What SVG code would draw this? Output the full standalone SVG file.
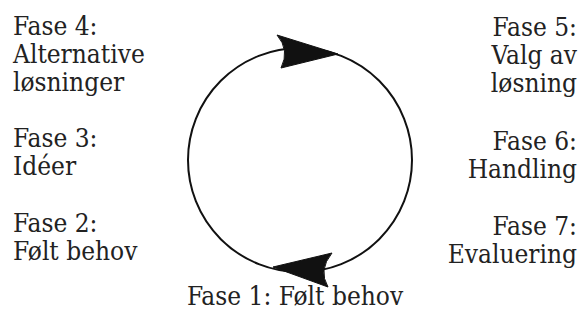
<svg xmlns="http://www.w3.org/2000/svg" width="581" height="320" viewBox="0 0 581 320">
<style>
text{font-family:"DejaVu Serif Condensed","DejaVu Serif",serif;font-stretch:condensed;font-size:26px;fill:#222}
.r{text-anchor:end}
.c{text-anchor:middle}
.ring{fill:none;stroke:#111;stroke-width:2}
.head{fill:#111;stroke:#111;stroke-width:1}
</style>
<rect width="581" height="320" fill="#fff"/>
<g id="connectors">
<circle class="ring" cx="300" cy="160" r="112"/>
<path class="head" d="M338,54 L277,35 Q290,50 281,68 Z"/>
<path class="head" d="M273,267 L332,253 Q318,270 328,287 Z"/>
</g>
<g id="fase4"><text x="13" y="35">Fase 4:</text><text x="13" y="63">Alternative</text><text x="13" y="91">løsninger</text></g>
<g id="fase3"><text x="13" y="147">Fase 3:</text><text x="13" y="175">Idéer</text></g>
<g id="fase2"><text x="13" y="232">Fase 2:</text><text x="13" y="260">Følt behov</text></g>
<g id="fase5"><text class="r" x="577" y="36">Fase 5:</text><text class="r" x="577" y="64">Valg av</text><text class="r" x="577" y="92">løsning</text></g>
<g id="fase6"><text class="r" x="577" y="150">Fase 6:</text><text class="r" x="577" y="178">Handling</text></g>
<g id="fase7"><text class="r" x="577" y="235">Fase 7:</text><text class="r" x="577" y="263">Evaluering</text></g>
<g id="fase1"><text class="c" x="295" y="305">Fase 1: Følt behov</text></g>
</svg>
